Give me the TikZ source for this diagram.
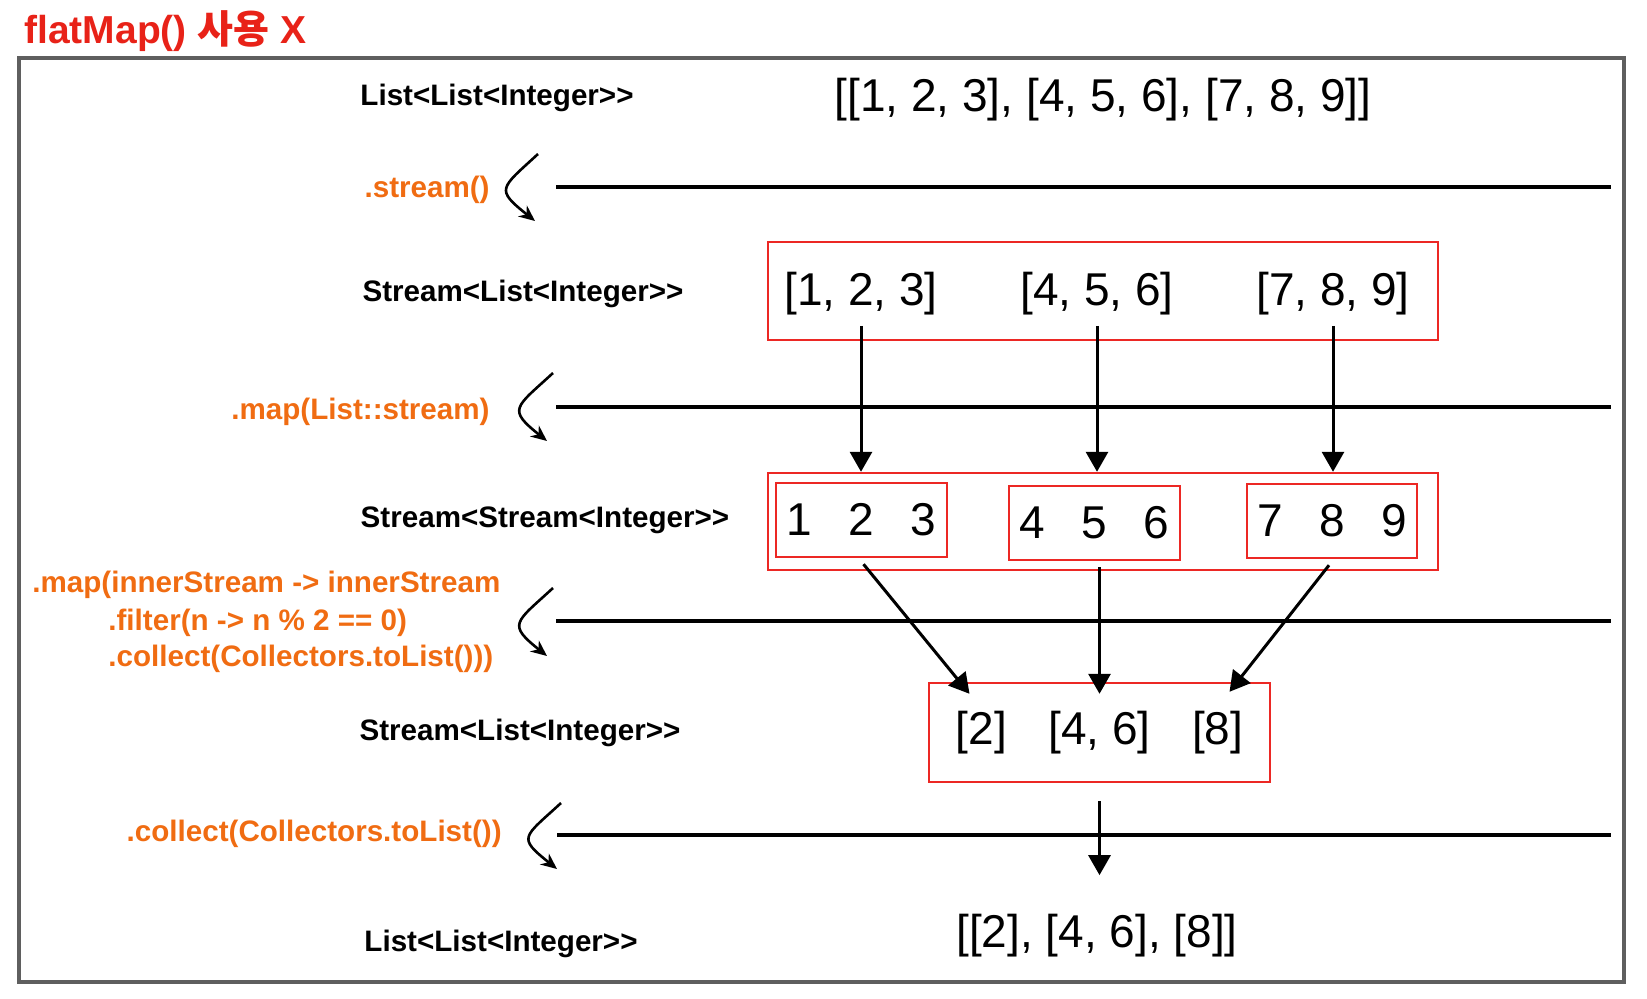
\documentclass[tikz,border=0pt]{standalone}
\usepackage{fontspec}
\setmainfont{Liberation Sans}
\newfontfamily\krfont{Noto Sans CJK KR}
\usetikzlibrary{arrows.meta,calc}
\definecolor{frameg}{RGB}{95,95,95}
\definecolor{boxred}{RGB}{236,40,36}
\definecolor{titlered}{RGB}{232,34,24}
\definecolor{opor}{RGB}{240,108,18}
\tikzset{
  typelabel/.style={font=\bfseries\fontsize{14.8}{17}\selectfont, inner sep=0pt},
  oplabel/.style={font=\bfseries\fontsize{14.8}{17}\selectfont, text=opor, inner sep=0pt},
  datatext/.style={font=\fontsize{23}{26}\selectfont, inner sep=0pt},
  redbox/.style={draw=boxred, line width=1.2pt, inner sep=0pt},
  flowarrow/.style={draw=black, line width=1.5pt, -{Triangle[length=10pt,width=11pt]}},
  curvarrow/.style={line width=1.3pt, -{Stealth[length=8pt,width=7pt]}},
  stageline/.style={line width=2pt},
  outerframe/.style={draw=frameg, line width=1.6pt},
}
\begin{document}
\begin{tikzpicture}[x=0.5pt,y=-0.5pt]
\useasboundingbox (0,0) rectangle (1647,999);

% title
\node[anchor=west, text=titlered, font=\bfseries\fontsize{19.5}{22}\selectfont, inner sep=0pt] (title) at (24,31) {flatMap() {\krfont 사용} X};

% outer frame
\draw[outerframe] (19,58) rectangle (1624,982);

% type labels
\node[typelabel] (t1) at (497,98) {List<List<Integer>{}>};
\node[typelabel] (t2) at (523,294) {Stream<List<Integer>{}>};
\node[typelabel] (t3) at (545,520) {Stream<Stream<Integer>{}>};
\node[typelabel] (t4) at (520,733) {Stream<List<Integer>{}>};
\node[typelabel] (t5) at (501,944) {List<List<Integer>{}>};

% operation labels
\node[oplabel, anchor=east] (op1) at (490,190) {.stream()};
\node[oplabel, anchor=east] (op2) at (490,412) {.map(List::stream)};
\node[oplabel, anchor=west] (op3a) at (32,585) {.map(innerStream -> innerStream};
\node[oplabel, anchor=west] (op3b) at (108,623) {.filter(n -> n \% 2 == 0)};
\node[oplabel, anchor=west] (op3c) at (108,659) {.collect(Collectors.toList()))};
\node[oplabel, anchor=east] (op4) at (502,834) {.collect(Collectors.toList())};

% stage lines
\coordinate (l1s) at (556,187); \coordinate (l1e) at (1611,187);
\coordinate (l2s) at (556,407); \coordinate (l2e) at (1611,407);
\coordinate (l3s) at (556,621); \coordinate (l3e) at (1611,621);
\coordinate (l4s) at (557,835); \coordinate (l4e) at (1611,835);
\draw[stageline] (l1s) -- (l1e);
\draw[stageline] (l2s) -- (l2e);
\draw[stageline] (l3s) -- (l3e);
\draw[stageline] (l4s) -- (l4e);

% curved arrows
\coordinate (c1s) at (538,154); \coordinate (c1e) at (535,221);
\coordinate (c2s) at (553,373); \coordinate (c2e) at (547,441);
\coordinate (c3s) at (553,588); \coordinate (c3e) at (547,656);
\coordinate (c4s) at (561,803); \coordinate (c4e) at (557,869);
\draw[curvarrow] (c1s) .. controls +(-38,35) and +(-40,-32) .. (c1e);
\draw[curvarrow] (c2s) .. controls +(-38,35) and +(-40,-32) .. (c2e);
\draw[curvarrow] (c3s) .. controls +(-38,35) and +(-40,-32) .. (c3e);
\draw[curvarrow] (c4s) .. controls +(-38,35) and +(-40,-32) .. (c4e);

% top data
\node[datatext] (top) at (1103,100) {[[1, 2, 3], [4, 5, 6], [7, 8, 9]]};

% Stream<List<Integer>>
\node[redbox, minimum width=335pt, minimum height=49pt] (B1) at (1103,291) {};
\node[datatext] (a1) at (861,294) {[1, 2, 3]};
\node[datatext] (a2) at (1097,294) {[4, 5, 6]};
\node[datatext] (a3) at (1333,294) {[7, 8, 9]};

% Stream<Stream<Integer>>
\node[redbox, minimum width=335pt, minimum height=48.5pt] (B2) at (1103,521.5) {};
\node[redbox, datatext, minimum width=85.5pt, minimum height=37pt] (b1) at (861.5,520) {1\hspace{18.2pt}2\hspace{18.2pt}3};
\node[redbox, datatext, minimum width=85.5pt, minimum height=37pt] (b2) at (1094.5,523) {4\hspace{18.2pt}5\hspace{18.2pt}6};
\node[redbox, datatext, minimum width=85pt, minimum height=37pt] (b3) at (1332,521) {7\hspace{18.2pt}8\hspace{18.2pt}9};

% Stream<List<Integer>> after filter
\node[redbox, datatext, minimum width=170.5pt, minimum height=49.5pt] (C) at (1099.5,732.5) {\raisebox{-1.5pt}{[2]\hspace{20.75pt}[4, 6]\hspace{20.75pt}[8]}};

% final
\node[datatext] (d) at (1097,936) {[[2], [4, 6], [8]]};

% arrows
\draw[flowarrow, shorten <=5pt] (a1.south) -- (a1.south |- B2.north);
\draw[flowarrow, shorten <=5pt] (a2.south) -- (a2.south |- B2.north);
\draw[flowarrow, shorten <=5pt] (a3.south) -- (a3.south |- B2.north);
\draw[flowarrow] ($(b1.south)+(2,6)$) -- ($(C.north)+(-130,12)$);
\draw[flowarrow] ($(b2.south -| C.north)+(0,6)$) -- ($(C.north)+(0,12)$);
\draw[flowarrow] ($(b3.south)+(-3,6)$) -- ($(C.north)+(130,10)$);
\draw[flowarrow] ($(C.south)+(0,18)$) -- ($(C.south |- d.north)+(0,-39)$);
\end{tikzpicture}
\end{document}
